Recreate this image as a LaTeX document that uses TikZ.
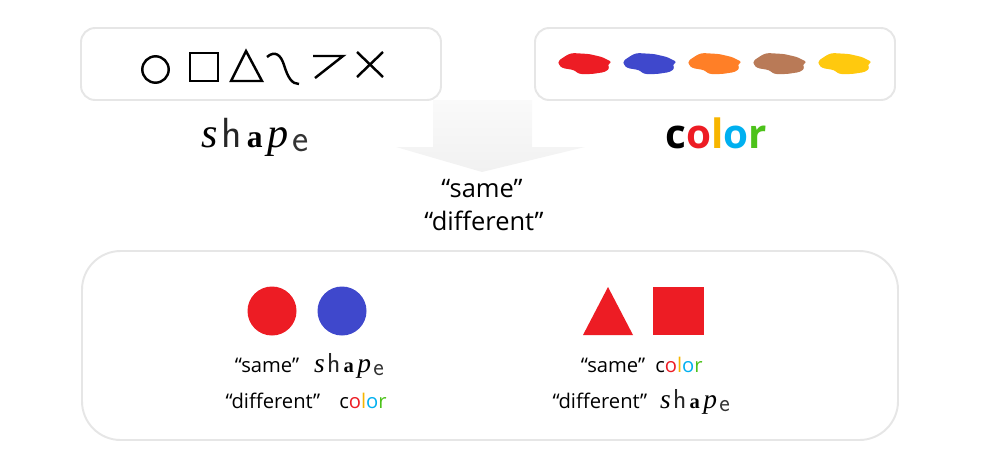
\documentclass[tikz,border=0pt]{standalone}
\usepackage{fontspec}
\setmainfont{Open Sans}
\newfontfamily\glyphserif{Liberation Serif}
\usetikzlibrary{positioning}
\definecolor{boxline}{HTML}{E6E6E6}
\definecolor{pred}{HTML}{ED1C24}
\definecolor{pblue}{HTML}{3F48CC}
\definecolor{porange}{HTML}{FF7F27}
\definecolor{pbrown}{HTML}{B97A57}
\definecolor{pyellow}{HTML}{FFC90E}
\definecolor{cyellow}{HTML}{F7B500}
\definecolor{cblue}{HTML}{00B0F0}
\definecolor{cgreen}{HTML}{4CC21A}
\newcommand{\shapeword}{%
  {\glyphserif\itshape\fontsize{24}{24}\selectfont s}\hspace{2pt}%
  {\sffamily\fontsize{24}{24}\selectfont\color{black!85}h}\hspace{3pt}%
  {\glyphserif\bfseries\fontsize{18}{18}\selectfont a}\hspace{3pt}%
  {\glyphserif\itshape\fontsize{24}{24}\selectfont p}\hspace{2pt}%
  \raisebox{-2.8pt}{\sffamily\fontsize{22}{22}\selectfont\color{black!80}e}}
\newcommand{\colorword}{c\textcolor{pred}{o}\textcolor{cyellow}{l}\textcolor{cblue}{o}\textcolor{cgreen}{r}}

\begin{document}
\begin{tikzpicture}[x=0.02cm,y=-0.02cm,
  box/.style={draw=boxline,line width=1.1pt,fill=white},
  glyph/.style={line width=1.4pt,line join=miter},
  quote/.style={anchor=base,font=\fontsize{11.5}{14}\selectfont},
  bigquote/.style={anchor=base,font=\fontsize{14.5}{17}\selectfont},
  small/.style={anchor=base,scale=0.65}]
\useasboundingbox (0,0) rectangle (1000,461);

% the two sources
\draw[box,rounded corners=8] (81,28) rectangle (441,100);
\draw[box,rounded corners=8] (535,28) rectangle (895,100);
\draw[glyph] (155.5,69.5) circle (13.2);
\draw[glyph] (190,53) rectangle (218,81);
\draw[glyph] (231,81) -- (246,51) -- (262,81) -- cycle;
\draw[glyph] (267,57) .. controls (275,50) and (281,55) .. (284,65) .. controls (288,78) and (292,84) .. (299,84);
\draw[glyph] (313,56) -- (343,56) -- (315,78);
\draw[glyph] (357,52) -- (383,77);
\draw[glyph] (383,52) -- (357,77);
\foreach \cx/\col in {585/pred,650/pblue,715/porange,780/pbrown,845/pyellow}
  \fill[\col,shift={(\cx,64)},rounded corners=1.5]
    (-27,-3) -- (-18,-9) -- (-13,-11) -- (4,-10) -- (17,-7) -- (27,-2) -- (22,1)
    -- (25,4) -- (20,8) -- (7,10) -- (-6,10) -- (-11,6) -- (-23,4) -- (-26,1) -- cycle;

\node[anchor=base] (shapetop) at (255,147) {\shapeword};
\node[anchor=base,font=\bfseries\fontsize{23}{23}\selectfont] (colortop) at (716,148) {\colorword};

% arrow
\shade[top color=gray!4,bottom color=gray!11]
  (433,100) -- (532,100) -- (532,147) -- (585,147) -- (482,172) -- (396,147) -- (433,147) -- cycle;
\node[bigquote] (same) at (482,197) {“same”};
\node[bigquote] (diff) at (484,230) {“different”};

% the two examples
\draw[box,rounded corners=22] (82,251) rectangle (898,440);
\fill[pred] (272,311) circle (24.5);
\fill[pblue] (342,311) circle (24.5);
\fill[pred] (583,335) -- (608,287) -- (633,335) -- cycle;
\fill[pred] (653,287) rectangle (704,335);

\node[quote] (same1) at (267,372) {“same”};
\node[small] (shape1) at (349,372) {\shapeword};
\node[quote] (diff1) at (273,408) {“different”};
\node[quote] (color1) at (363,408) {\colorword};

\node[quote] (same2) at (613,372) {“same”};
\node[quote] (color2) at (679,372) {\colorword};
\node[quote] (diff2) at (600,408) {“different”};
\node[small] (shape2) at (695,408) {\shapeword};
\end{tikzpicture}
\end{document}
